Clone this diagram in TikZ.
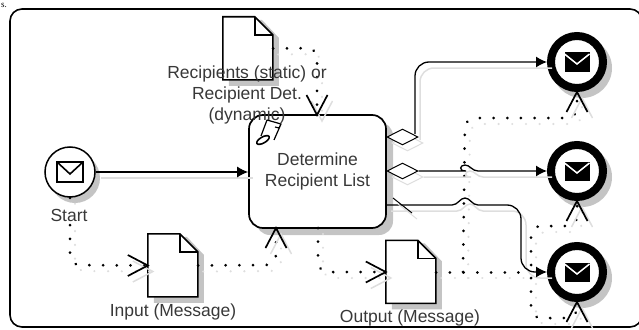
\documentclass[tikz,border=0pt]{standalone}
\usepackage{fontspec}
\setmainfont{Liberation Sans}
\newfontfamily\cutfont{Liberation Serif}
\usetikzlibrary{arrows.meta,shapes.geometric,calc}
\definecolor{shadowgray}{RGB}{196,196,196}
\definecolor{paleshade}{RGB}{222,222,222}
\definecolor{labelgray}{RGB}{56,56,56}
\tikzset{
  lbl/.style={text=labelgray,font=\fontsize{17.5}{21}\selectfont,align=center,inner sep=0pt},
  seqflow/.style={draw=black,line width=1.3pt,-{Latex[length=11pt,width=11pt]},rounded corners=14pt},
  seqshadow/.style={draw=paleshade,line width=1.5pt,rounded corners=14pt},
  vtip/.style={draw=black,line width=1.7pt,line join=miter,miter limit=4},
  vshadow/.style={draw=paleshade,line width=1.5pt},
  msgdots/.style={draw=black,line width=3pt,line cap=round,dash pattern=on 0.01pt off 13.7pt,rounded corners=10pt},
  msgshadow/.style={draw=paleshade,line width=2.4pt,line cap=round,dash pattern=on 0.01pt off 13.7pt,rounded corners=10pt},
  endevent/.style={circle,draw=black,line width=8pt,fill=white,inner sep=0pt,minimum size=52pt},
  gate/.style={diamond,draw=black,line width=1pt,fill=white,inner sep=0pt,minimum width=31pt,minimum height=16pt,aspect=2},
  docbox/.style={inner sep=0pt,minimum width=50pt,minimum height=63pt},
  docline/.style={draw=black,line width=1.6pt,line join=miter},
  offs/.style={transform canvas={shift={(5pt,-6pt)}}},
  softshadow/.style={draw=none,fill=shadowgray},
}
\newcommand{\docshape}[1]{%
  \path[softshadow] ($(#1.north west)+(6,3)$) -- ++(33,0) -- ++(17,18) -- ++(0,48) -- ++(-50,0) -- cycle;
  \draw[docline,fill=white] (#1.north west) -- ++(32,0) -- ++(18,18) -- ++(0,45) -- ++(-50,0) -- cycle;
  \draw[docline] ($(#1.north west)+(32,0)$) -- ++(0,18) -- ++(18,0);
}
\newcommand{\whiteenv}[1]{%
  \draw[black,line width=1.6pt,fill=white] ($(#1)+(-13,-10)$) rectangle ($(#1)+(13,10)$);
  \draw[black,line width=1.6pt] ($(#1)+(-13,-10)$) -- ($(#1)+(0,2)$) -- ($(#1)+(13,-10)$);
}
\newcommand{\blackenv}[1]{%
  \fill[black] ($(#1)+(-12.5,-9.5)$) rectangle ($(#1)+(12.5,9.5)$);
  \draw[white,line width=1.5pt] ($(#1)+(-12.5,-8)$) -- ($(#1)+(0,2)$) -- ($(#1)+(12.5,-8)$);
}
\newcommand{\msgflow}[1]{%
  \begin{scope}[offs]\draw[msgshadow] #1;\end{scope}
  \draw[msgdots] #1;
}
\newcommand{\seqconn}[1]{%
  \begin{scope}[offs]\draw[seqshadow] #1;\end{scope}
  \draw[seqflow] #1;
}
\newcommand{\circshadow}[2]{\path[softshadow] ($(#1)+(5,6)$) circle[radius=#2pt];}
% open arrowhead: tip at #1, pointing in direction #2 (degrees)
\newcommand{\opentip}[2]{%
  \begin{scope}[offs]\draw[vshadow,shift={(#1)},rotate=#2] (-20,-10.5) -- (0,0) -- (-20,10.5);\end{scope}
  \draw[vtip,shift={(#1)},rotate=#2] (-20,-10.5) -- (0,0) -- (-20,10.5);
}
\begin{document}
\begin{tikzpicture}[x=1pt,y=-1pt]
\useasboundingbox (0,0) rectangle (639,329);
\node[anchor=base west,inner sep=0pt,font=\cutfont\fontsize{9}{9}\selectfont] (cut) at (1,8) {s.};
\draw[black,line width=1.6pt,rounded corners=12pt] (10,9) rectangle (642,327);

% nodes
\node[docbox] (doc1) at (248,48.5) {};
\node[docbox] (doc2) at (173,265.5) {};
\node[docbox] (doc3) at (411,272) {};
\circshadow{70,172}{25}
\circshadow{577,62}{30}
\circshadow{577,171}{30}
\circshadow{577,272}{30}
\path[softshadow,rounded corners=14pt] (256,122) rectangle (393,235);
\docshape{doc1}
\docshape{doc2}
\docshape{doc3}
\node[draw=black,line width=1.5pt,fill=white,circle,inner sep=0pt,minimum size=50pt] (start) at (70,172) {};
\node[endevent] (end1) at (577,62) {};
\node[endevent] (end2) at (577,171) {};
\node[endevent] (end3) at (577,272) {};
\node[draw=black,line width=1.7pt,fill=white,rounded corners=14pt,minimum width=137pt,minimum height=113pt,
  lbl] (task) at (317.5,171.5) {Determine\\Recipient List};

% message flows
\coordinate (t1) at (317,115);
\coordinate (t2) at (276,228);
\coordinate (t3) at (318,228);
\coordinate (branch) at (463,272);
\msgflow{(doc3.east) -- (520,272)}
\msgflow{(doc1.east) -- (317,48) -- (t1)}
\msgflow{(start.south) -- (70,265) -- (doc2.west)}
\msgflow{(doc2.east) -- (276,265) -- (t2)}
\msgflow{(t3) -- (318,272) -- (doc3.west)}
\msgflow{(branch) -- (465,118) -- (577,118) -- (end1.south)}
\msgflow{(531,265) -- (531,226) -- (577,226) -- (end2.south)}
\msgflow{(531,278) -- (531,318) -- (577,318) -- (end3.south)}
% open arrowheads of the message flows
\opentip{t1}{-90}
\opentip{t2}{90}
\opentip{doc2.west}{0}
\opentip{doc3.west}{0}
\opentip{end1.south}{90}
\opentip{end2.south}{90}
\opentip{end3.south}{90}

% sequence flows
\begin{scope}[offs]
\node[gate,draw=paleshade] (gate1s) at (402.5,137) {};
\node[gate,draw=paleshade] (gate2s) at (402.5,171) {};
\end{scope}
\node[gate] (gate1) at (402.5,137) {};
\node[gate] (gate2) at (402.5,171) {};
\coordinate (g1out) at (415,134);
\coordinate (s3) at (386,205);
\seqconn{(start.east) -- (task.west|-start.east)}
\seqconn{(g1out) -- (415,62) -- (end1.west)}
\seqconn{(gate2.east) -- (452,171) [sharp corners] .. controls (458,171) and (460,165) .. (465,165) .. controls (470,165) and (472,171) .. (478,171) -- (end2.west)}
\seqconn{(s3) [sharp corners] -- (452,205) .. controls (458,205) and (460,198) .. (465,198) .. controls (470,198) and (472,205) .. (478,205) [rounded corners=14pt] -- (521,205) -- (521,272) -- (end3.west)}
\begin{scope}[offs]\draw[paleshade,line width=1pt] (393,198) -- (412,213);\end{scope}
\draw[black,line width=1pt] (393,198) -- (412,213);

% icons
\whiteenv{start}
\blackenv{end1}
\blackenv{end2}
\blackenv{end3}
\draw[black,line width=1.2pt,line join=round] (261,136) -- (267,120) -- (281,124) -- (279,128) -- (275,127) (281,124) -- (274,140);
\draw[black,line width=1.6pt,fill=white,rotate around={30:(263,140)}] (263,140) ellipse (7 and 3);

% labels
\node[lbl,fill=white] (startlbl) at (69,215) {Start};
\node[lbl] (rec) at (247,94.5) {Recipients (static) or\\Recipient Det.\\(dynamic)};
\node[lbl] (inlbl) at (173,312) {Input (Message)};
\node[lbl] (outlbl) at (410,318) {Output (Message)};
\end{tikzpicture}
\end{document}
